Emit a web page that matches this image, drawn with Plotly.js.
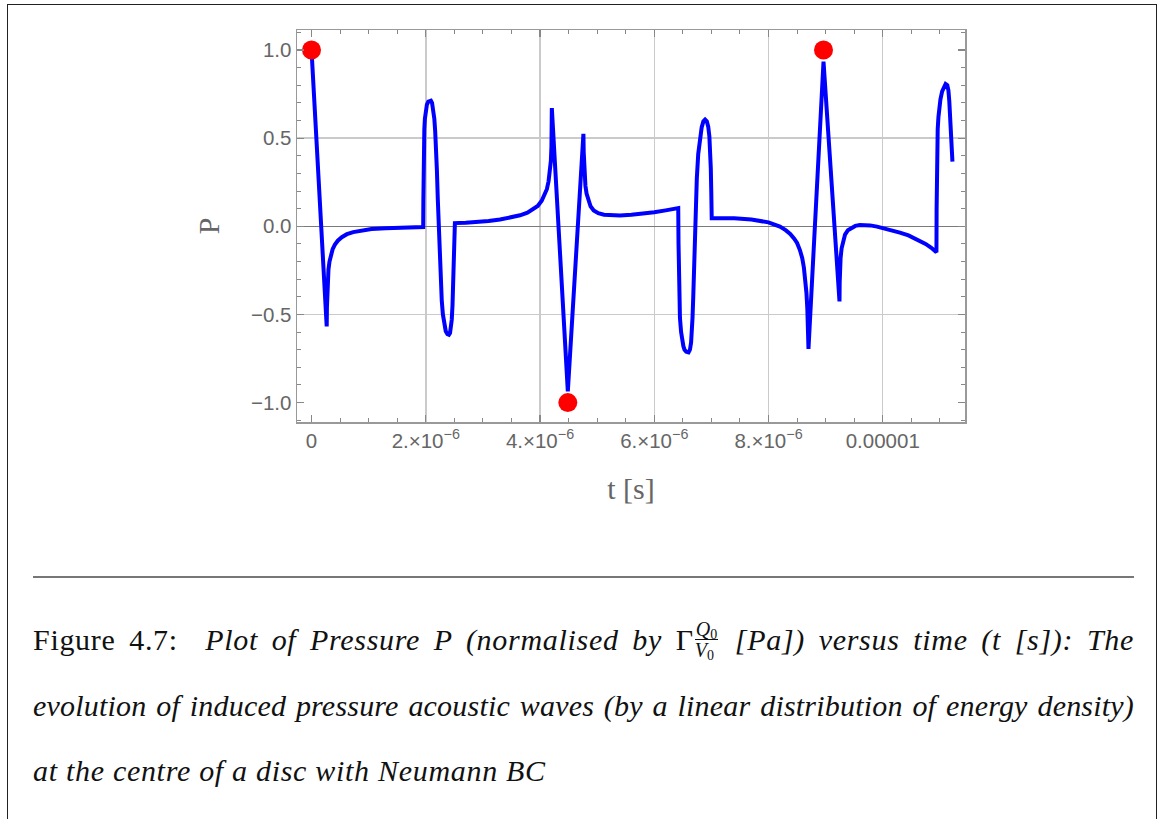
<!DOCTYPE html>
<html>
<head>
<meta charset="utf-8">
<script src="https://cdn.plot.ly/plotly-3.0.1.min.js"></script>
<style>
  html, body { margin:0; padding:0; background:#fff; }
  #wrap { position:relative; width:1160px; height:819px; overflow:hidden; }
  #plot { position:absolute; left:0; top:0; width:1160px; height:819px; }
  #frame { position:absolute; left:7px; top:4px; width:1150px; height:830px; border:1.5px solid #222; box-sizing:border-box; pointer-events:none; }
  #rule { position:absolute; left:33px; width:1101px; top:576px; height:0; border-top:2px solid #777; }
  .ln { position:absolute; left:33px; width:1101px; font-family:"Liberation Serif", serif; font-size:30px; line-height:30px; color:#111; white-space:nowrap; letter-spacing:0.7px; }
  .j { text-align:justify; text-align-last:justify; white-space:normal; }
  .up { font-style:normal; }
  .frac { display:inline-block; vertical-align:-0.36em; text-align:center; font-size:20px; line-height:20px; margin:0 3px 0 1px; letter-spacing:0; }
  .frac span { display:block; }
  .frac .num { border-bottom:1.3px solid #111; padding:0 1px; }
  sub { font-size:14px; font-style:normal; vertical-align:-3px; line-height:0; }
</style>
</head>
<body>
<div id="wrap">
  <div id="plot"></div>
  <div id="rule"></div>
  <div class="ln j" style="top:619px;">Figure 4.7:&nbsp; <i>Plot of Pressure P (normalised by <span class="up">Γ</span><span class="frac"><span class="num">Q<sub>0</sub></span><span>V<sub>0</sub></span></span> [Pa]) versus time (t [s]): The</i></div>
  <div class="ln j" style="top:691px; letter-spacing:0.2px;"><i>evolution of induced pressure acoustic waves (by a linear distribution of energy density)</i></div>
  <div class="ln" style="top:756px;"><i>at the centre of a disc with Neumann BC</i></div>
  <div id="frame"></div>
</div>
<script>
// keep each justified caption line on one line
document.querySelectorAll('.ln.j').forEach(el => {
  let ls = parseFloat(getComputedStyle(el).letterSpacing) || 0;
  let guard = 0;
  while (el.offsetHeight > 45 && guard < 40) { ls -= 0.1; el.style.letterSpacing = ls + 'px'; guard++; }
});

// time in microseconds, pressure normalised
const tMicro = [
  0, 0.266, 0.27, 0.276, 0.285, 0.297, 0.315, 0.34, 0.37, 0.41, 0.46, 0.53, 0.62, 0.73, 0.87, 1.05, 1.3, 1.6, 1.955,
  1.958, 1.962, 1.967, 1.975, 1.985, 2.0, 2.02, 2.045, 2.07, 2.09, 2.11, 2.13, 2.15, 2.165, 2.18, 2.195, 2.21, 2.225,
  2.24, 2.26, 2.28, 2.30, 2.325, 2.35, 2.38, 2.405, 2.425, 2.44, 2.455, 2.468, 2.48, 2.492, 2.502, 2.51,
  2.7, 2.9, 3.1, 3.3, 3.5, 3.65, 3.78, 3.88, 3.96, 4.03, 4.08, 4.12, 4.15, 4.175, 4.19, 4.2, 4.205, 4.207,
  4.487, 4.76,
  4.765, 4.772, 4.782, 4.795, 4.815, 4.845, 4.885, 4.94, 5.02, 5.12, 5.25, 5.4, 5.6, 5.8, 6.0, 6.2, 6.42,
  6.425, 6.43, 6.437, 6.45, 6.47, 6.49, 6.51, 6.53, 6.56, 6.6, 6.625, 6.645, 6.66, 6.67, 6.683, 6.695, 6.706, 6.716,
  6.728, 6.745, 6.77, 6.80, 6.83, 6.86, 6.89, 6.92, 6.945, 6.965, 6.978, 6.99, 6.998, 7.003, 7.006,
  7.4, 7.7, 8.0, 8.1, 8.2, 8.3, 8.38, 8.45, 8.5, 8.55, 8.59, 8.62, 8.645, 8.665, 8.68, 8.692, 8.70,
  8.963, 9.243,
  9.246, 9.252, 9.262, 9.28, 9.305, 9.34, 9.39, 9.45, 9.52, 9.6, 9.68, 9.78, 9.9, 10.0, 10.15, 10.3, 10.45, 10.6, 10.75, 10.85, 10.94,
  10.943, 10.947, 10.953, 10.962, 10.975, 10.99, 11.01, 11.04, 11.07, 11.1, 11.13, 11.15, 11.165, 11.18, 11.195, 11.21, 11.22];
const pressure = [
  1.0, -0.568, -0.46, -0.37, -0.3, -0.245, -0.2, -0.16, -0.13, -0.104, -0.082, -0.062, -0.045, -0.033, -0.024, -0.016, -0.011, -0.007, -0.004,
  0.15, 0.35, 0.47, 0.55, 0.61, 0.655, 0.69, 0.707, 0.713, 0.712, 0.70, 0.665, 0.61, 0.54, 0.45, 0.32, 0.16, 0.0,
  -0.15, -0.30, -0.42, -0.50, -0.56, -0.595, -0.612, -0.615, -0.605, -0.58, -0.53, -0.45, -0.34, -0.2, -0.07, 0.018,
  0.02, 0.024, 0.03, 0.038, 0.05, 0.062, 0.077, 0.095, 0.115, 0.145, 0.175, 0.21, 0.255, 0.305, 0.37, 0.45, 0.55, 0.67,
  -0.936, 0.524,
  0.42, 0.34, 0.28, 0.23, 0.185, 0.145, 0.113, 0.09, 0.074, 0.065, 0.061, 0.061, 0.065, 0.071, 0.079, 0.09, 0.103,
  -0.1, -0.28, -0.42, -0.52, -0.6, -0.65, -0.68, -0.7, -0.712, -0.715, -0.7, -0.66, -0.6, -0.52, -0.4, -0.26, -0.12, 0.0,
  0.13, 0.27, 0.41, 0.5, 0.56, 0.595, 0.605, 0.595, 0.565, 0.51, 0.44, 0.33, 0.2, 0.1, 0.046,
  0.046, 0.038, 0.022, 0.012, -0.002, -0.022, -0.043, -0.07, -0.095, -0.135, -0.18, -0.235, -0.30, -0.38, -0.47, -0.57, -0.696,
  0.934, -0.426,
  -0.32, -0.24, -0.18, -0.125, -0.08, -0.047, -0.022, -0.008, 0.002, 0.007, 0.008, 0.005, -0.002, -0.01, -0.022, -0.036, -0.052, -0.073, -0.1, -0.122, -0.148,
  0.1, 0.3, 0.45, 0.55, 0.62, 0.67, 0.72, 0.765, 0.795, 0.807, 0.8, 0.77, 0.71, 0.6, 0.48, 0.42, 0.367];
// extremum markers
const extremaT = [0, 4.487, 8.963];
const extremaP = [1, -1, 1];
// tick labels
const xTickVals = [0, 2, 4, 6, 8, 10];
const xTickText = ["0", "2.×10<sup>−6</sup>", "4.×10<sup>−6</sup>", "6.×10<sup>−6</sup>", "8.×10<sup>−6</sup>", "0.00001"];
const xGridVals = [2, 4, 6, 8, 10];
const yTickVals = [-1, -0.5, 0, 0.5, 1];
const yTickText = ["−1.0", "−0.5", "0.0", "0.5", "1.0"];
const yGridVals = [-0.5, 0.5];

const toSec = a => a.map(v => v * 1e-6);
const xr = [-0.254e-6, 11.44e-6];
const yr = [-1.11, 1.113];

const traces = [
  { x: [xr[0]], y: [0], xaxis: 'x2', yaxis: 'y2', type: 'scatter', mode: 'markers', marker: { opacity: 0 }, hoverinfo: 'skip' },
  { x: toSec(tMicro), y: pressure, type: 'scatter', mode: 'lines',
    line: { color: '#0000ff', width: 4 }, hoverinfo: 'skip' },
  { x: toSec(extremaT), y: extremaP, type: 'scatter', mode: 'markers',
    marker: { color: '#ff0000', size: 19 }, hoverinfo: 'skip' }
];

const tickFont = { family: 'Liberation Sans, Arial, sans-serif', size: 20.5, color: '#666' };
const layout = {
  width: 1160, height: 819,
  margin: { l: 297, r: 195, t: 30, b: 397 },
  paper_bgcolor: 'rgba(0,0,0,0)', plot_bgcolor: '#fff',
  showlegend: false,
  xaxis: {
    range: xr, tickvals: xTickVals.map(v => v * 1e-6), ticktext: xTickText,
    ticks: 'inside', ticklen: 7, tickwidth: 1.2, tickcolor: '#888',
    showline: true, linecolor: '#999', linewidth: 1.5, mirror: 'allticks',
    showgrid: false, zeroline: false, tickfont: tickFont,
    minor: { dtick: 0.5e-6, tick0: 0, ticks: 'inside', ticklen: 4, tickcolor: '#888', tickwidth: 1, showgrid: false },
    title: { text: 't [s]', font: { family: 'Liberation Serif, serif', size: 30, color: '#666' }, standoff: 27 }
  },
  yaxis: {
    range: yr, tickvals: yTickVals, ticktext: yTickText,
    ticks: 'inside', ticklen: 7, tickwidth: 1.2, tickcolor: '#888',
    showline: true, linecolor: '#999', linewidth: 1.5, mirror: 'allticks',
    showgrid: false, zeroline: true, zerolinecolor: '#7a7a7a', zerolinewidth: 1.3, tickfont: tickFont,
    minor: { dtick: 0.1, tick0: 0, ticks: 'inside', ticklen: 4, tickcolor: '#888', tickwidth: 1, showgrid: false },
    title: { text: 'P', font: { family: 'Liberation Serif, serif', size: 30, color: '#666' }, standoff: 22 }
  },
  xaxis2: {
    overlaying: 'x', range: xr, tickvals: xGridVals.map(v => v * 1e-6), showticklabels: false,
    ticks: '', showgrid: true, gridcolor: '#cacaca', gridwidth: 1.5, zeroline: false, showline: false
  },
  yaxis2: {
    overlaying: 'y', range: yr, tickvals: yGridVals, showticklabels: false,
    ticks: '', showgrid: true, gridcolor: '#cacaca', gridwidth: 1.5, zeroline: false, showline: false
  }
};

Plotly.newPlot('plot', traces, layout, { displayModeBar: false, staticPlot: true });
</script>
</body>
</html>
